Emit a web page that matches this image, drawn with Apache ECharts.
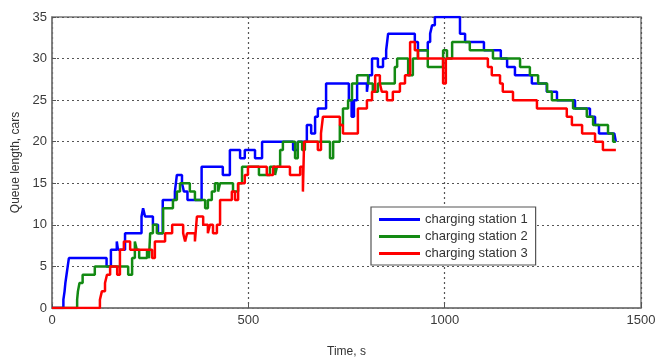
<!DOCTYPE html>
<html>
<head>
<meta charset="utf-8">
<script src="https://cdn.jsdelivr.net/npm/echarts@6/dist/echarts.min.js"></script>
<style>html,body{margin:0;padding:0;background:#fff;}#c{width:670px;height:363px;}</style>
</head>
<body>
<div id="c"></div>
<script>
// Tick values
var xTicks = [0, 500, 1000, 1500];
var yTicks = [0, 5, 10, 15, 20, 25, 30, 35];
var seriesNames = ['charging station 1', 'charging station 2', 'charging station 3'];

// Station 1 (blue): time (s) and queue length (cars), value holds until next time
var times1 = [0,29,32,34,37,40,43,139,150,165,168,186,228,232,237,257,270,282,313,318,331,336,345,381,435,453,479,491,517,535,614,626,649,660,670,677,698,756,763,769,777,802,807,815,830,843,851,856,924,932,957,963,968,975,1039,1052,1100,1143,1159,1179,1222,1260,1286,1332,1370,1383,1393,1432,1436];
var values1 = [0,1,2,3,4,5,6,5,7,8,7,9,11,12,11,10,9,13,14,16,15,14,13,17,16,19,18,19,18,20,19,20,22,21,23,24,27,25,23,25,27,26,28,30,29,30,31,33,32,31,32,33,34,35,33,32,31,30,29,28,27,26,25,24,23,22,21,21,20];

// Station 2 (green)
var times2 = [0,64,66,70,78,109,194,204,211,216,222,242,247,250,257,267,283,308,318,326,351,364,390,397,407,415,423,428,461,474,484,527,555,568,573,581,588,619,626,637,644,708,716,733,741,754,764,777,805,817,830,873,879,907,919,932,957,996,1006,1019,1064,1123,1192,1217,1238,1261,1273,1327,1362,1378,1416,1429,1436];
var values2 = [0,1,2,3,4,5,4,6,8,7,6,7,6,9,10,9,12,13,14,15,14,13,12,13,14,15,14,15,14,15,17,16,17,16,17,19,20,18,20,19,20,18,20,22,24,25,27,28,27,26,27,29,30,28,30,31,29,31,30,32,31,30,29,28,27,26,25,24,23,22,21,20,20];

// Station 3 (red)
var times3 = [0,122,127,135,140,148,166,173,183,199,255,262,288,306,334,339,344,364,369,385,397,402,410,420,428,458,466,474,491,499,547,563,606,632,639,642,677,685,690,733,741,779,802,815,823,835,840,853,868,886,899,912,924,932,996,1003,1110,1120,1141,1148,1174,1235,1311,1324,1350,1383,1403,1436];
var values3 = [0,1,2,3,4,5,4,7,8,7,6,8,9,10,9,8,9,8,11,10,9,10,9,10,13,14,13,15,16,17,16,17,16,17,14,20,19,21,23,22,21,24,25,26,28,27,26,25,26,27,28,32,31,30,27,30,29,28,27,26,25,24,23,22,21,20,19,19];

var colors = ['#0000ff', '#138a13', '#ff0000'];

function pairs(t, v) { return t.map(function (x, i) { return [x, v[i]]; }); }
var allData = [pairs(times1, values1), pairs(times2, values2), pairs(times3, values3)];

var chart = echarts.init(document.getElementById('c'));
var gridLine = { show: true, lineStyle: { color: '#555', width: 1.2, type: [2, 3] } };
chart.setOption({
  animation: false,
  backgroundColor: '#fff',
  grid: { left: 52, right: 29, top: 17, bottom: 52, show: true, borderColor: '#7a7a7a', borderWidth: 1.5, backgroundColor: 'transparent' },
  xAxis: {
    type: 'value', min: xTicks[0], max: xTicks[xTicks.length - 1], interval: 500,
    name: 'Time, s', nameLocation: 'middle', nameGap: 38,
    nameTextStyle: { fontFamily: 'Liberation Sans', fontSize: 12, color: '#333' },
    axisLine: { show: true, lineStyle: { color: '#7a7a7a', width: 1.5 } },
    axisTick: { show: true, inside: true, length: 4, lineStyle: { color: '#555' } },
    axisLabel: { margin: 6, fontFamily: 'Liberation Sans', fontSize: 13, color: '#3a3a3a', formatter: function (v) { return String(v); } },
    splitLine: gridLine
  },
  yAxis: {
    type: 'value', min: yTicks[0], max: yTicks[yTicks.length - 1], interval: 5,
    name: 'Queue length, cars', nameLocation: 'middle', nameGap: 23,
    nameTextStyle: { fontFamily: 'Liberation Sans', fontSize: 12, color: '#333' },
    axisLine: { show: true, lineStyle: { color: '#7a7a7a', width: 1.5 } },
    axisTick: { show: true, inside: true, length: 4, lineStyle: { color: '#555' } },
    axisLabel: { margin: 5, fontFamily: 'Liberation Sans', fontSize: 13, color: '#3a3a3a' },
    splitLine: gridLine
  },
  legend: {
    orient: 'vertical', left: 371, top: 207,
    padding: [5, 8, 4, 8], itemGap: 2,
    itemWidth: 41, itemHeight: 3, icon: 'rect',
    backgroundColor: '#fff', borderColor: '#555', borderWidth: 1.2,
    textStyle: { fontFamily: 'Liberation Sans', fontSize: 13, color: '#333', lineHeight: 15 },
    data: seriesNames
  },
  series: seriesNames.map(function (n, i) {
    return {
      name: n, type: 'line', step: 'end', data: allData[i],
      showSymbol: false, symbol: 'none',
      lineStyle: { color: colors[i], width: 2.5 },
      itemStyle: { color: colors[i] }
    };
  })
});
</script>
</body>
</html>
